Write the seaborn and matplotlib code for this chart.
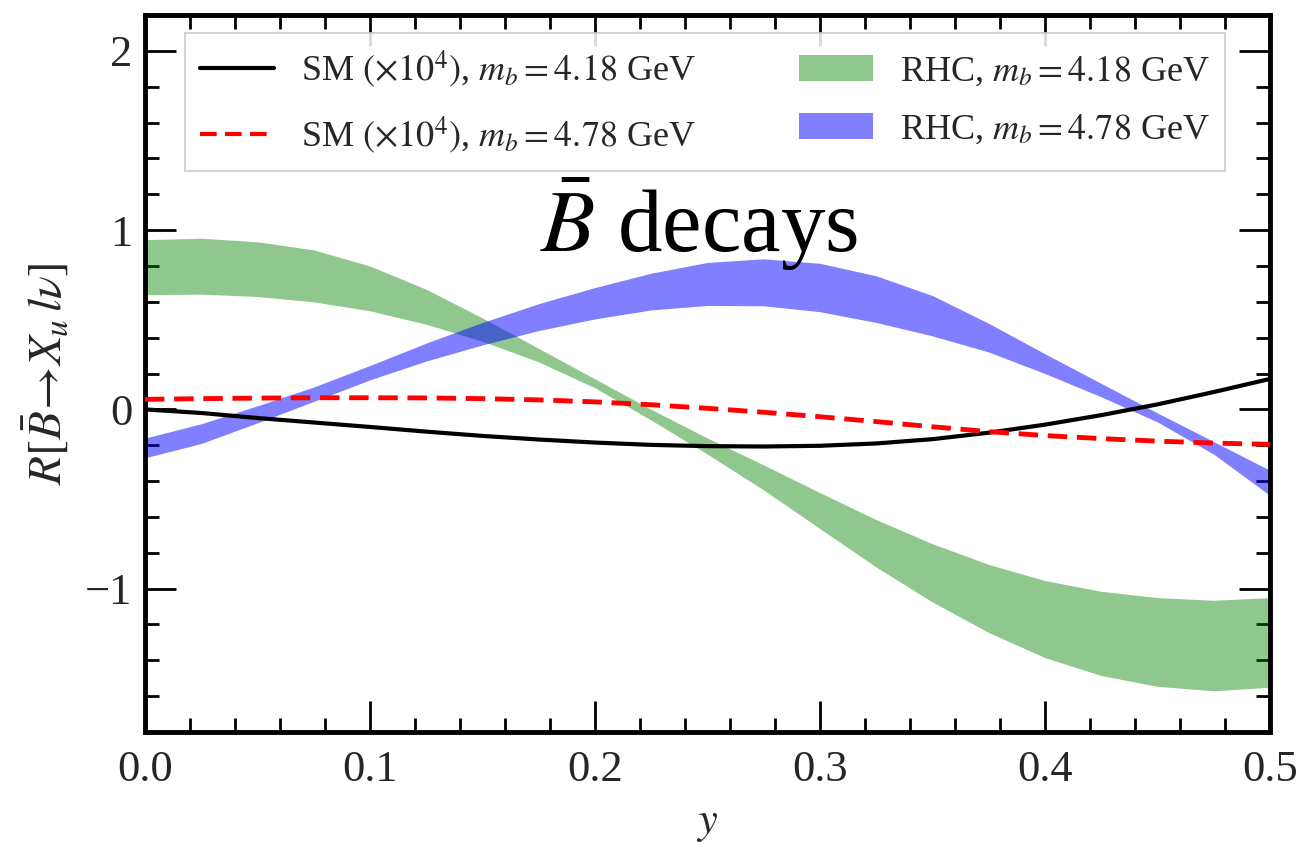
import numpy as np
import pandas as pd
import matplotlib
matplotlib.use("Agg")
import matplotlib.pyplot as plt
import seaborn as sns
from matplotlib.ticker import MultipleLocator
from matplotlib.patches import Patch
from matplotlib.lines import Line2D

# ---------------- data ----------------
y_grid = [0.0, 0.025, 0.05, 0.075, 0.1, 0.125, 0.15, 0.175, 0.2, 0.225, 0.25,
          0.275, 0.3, 0.325, 0.35, 0.375, 0.4, 0.425, 0.45, 0.475, 0.5]

sm_418 = [0.0, -0.02, -0.048, -0.073, -0.098, -0.124, -0.148, -0.168, -0.185, -0.198, -0.205,
          -0.207, -0.203, -0.19, -0.166, -0.13, -0.085, -0.032, 0.028, 0.097, 0.17]

sm_478 = [0.056, 0.06, 0.063, 0.065, 0.065, 0.064, 0.06, 0.053, 0.042, 0.026, 0.006,
          -0.016, -0.041, -0.068, -0.097, -0.124, -0.146, -0.163, -0.177, -0.188, -0.195]

rhc_418_hi = [0.947, 0.955, 0.935, 0.89, 0.80, 0.67, 0.51, 0.34, 0.17, 0.0, -0.16,
              -0.31, -0.465, -0.615, -0.75, -0.865, -0.955, -1.015, -1.05, -1.065, -1.05]
rhc_418_lo = [0.64, 0.643, 0.63, 0.6, 0.55, 0.475, 0.38, 0.265, 0.12, -0.06, -0.25,
              -0.45, -0.665, -0.88, -1.075, -1.245, -1.385, -1.485, -1.545, -1.57, -1.55]

rhc_478_hi = [-0.16, -0.08, 0.02, 0.125, 0.245, 0.37, 0.485, 0.59, 0.68, 0.76, 0.82,
              0.84, 0.815, 0.745, 0.635, 0.48, 0.31, 0.145, -0.02, -0.18, -0.34]
rhc_478_lo = [-0.27, -0.19, -0.075, 0.045, 0.165, 0.27, 0.36, 0.44, 0.505, 0.555, 0.58,
              0.578, 0.545, 0.485, 0.41, 0.32, 0.2, 0.07, -0.07, -0.25, -0.48]

labels = [r"SM $(\times 10^4)$, $m_b = 4.18$ GeV",
          r"SM $(\times 10^4)$, $m_b = 4.78$ GeV",
          r"RHC, $m_b = 4.18$ GeV",
          r"RHC, $m_b = 4.78$ GeV"]

x_ticks = [0.0, 0.1, 0.2, 0.3, 0.4, 0.5]
y_ticks = [-1, 0, 1, 2]

# ---------------- style ----------------
sns.set_theme(style="ticks")
plt.rcParams["font.family"] = ["Liberation Serif", "DejaVu Serif"]
plt.rcParams["mathtext.fontset"] = "stix"
plt.rcParams["axes.unicode_minus"] = True

fig = plt.figure(figsize=(13.05, 8.42), dpi=100)
ax = fig.add_axes([0.1111, 0.1306, 0.8621, 0.8515])

df = pd.DataFrame({"y": y_grid, "sm418": sm_418, "sm478": sm_478})

# bands
ax.fill_between(y_grid, rhc_418_lo, rhc_418_hi, color="#008000", alpha=0.44,
                linewidth=0, zorder=1)
ax.fill_between(y_grid, rhc_478_lo, rhc_478_hi, color="#0000ff", alpha=0.5,
                linewidth=0, zorder=2)

# lines
sns.lineplot(data=df, x="y", y="sm418", ax=ax, color="black", linewidth=3.0,
             zorder=4, legend=False)
sns.lineplot(data=df, x="y", y="sm478", ax=ax, color="#ff0000", linewidth=3.5,
             linestyle=(0, (4, 2)), zorder=4, legend=False)

ax.set_xlim(0, 0.5)
ax.set_ylim(-1.8, 2.2)
ax.set_xticks(x_ticks)
ax.set_xticklabels([f"{v:.1f}" for v in x_ticks])
ax.set_yticks(y_ticks)
ax.set_yticklabels(["\u22121", "0", "1", "2"])
ax.xaxis.set_minor_locator(MultipleLocator(0.02))
ax.yaxis.set_minor_locator(MultipleLocator(0.2))

ax.tick_params(which="both", direction="in", top=True, right=True,
               color="black")
ax.tick_params(which="major", length=22, width=2.0, labelsize=32)
ax.tick_params(which="minor", length=10, width=2.0)
ax.tick_params(axis="x", which="major", pad=13)
ax.tick_params(axis="y", which="major", pad=9)
for s in ax.spines.values():
    s.set_linewidth(3.5)
    s.set_color("black")

ax.set_xlabel(r"$y$", fontsize=32, labelpad=10)
ax.set_ylabel(r"$R[\bar{B}\!\rightarrow\! X_u\, l\nu]$", fontsize=34, labelpad=10)

# annotation
ax.text(0.2462, 0.88, r"$\bar{B}$ decays", fontsize=64, ha="center",
        va="baseline", color="black", zorder=5)

# legend
handles = [
    Line2D([], [], color="black", linewidth=3.0),
    Line2D([], [], color="#ff0000", linewidth=3.0, linestyle=(0, (4, 2))),
    Patch(facecolor="#008000", alpha=0.44, edgecolor="none"),
    Patch(facecolor="#0000ff", alpha=0.5, edgecolor="none"),
]
leg = ax.legend(handles, labels, ncol=2, loc="upper left",
                bbox_to_anchor=(0.0356, 0.975), borderaxespad=0,
                fontsize=26, handlelength=2.05, handleheight=0.7,
                handletextpad=0.75, columnspacing=2.85, labelspacing=0.68,
                borderpad=0.42, frameon=True, fancybox=False,
                edgecolor="#cccccc", framealpha=0.85)
leg.get_frame().set_linewidth(1.5)
leg.set_zorder(6)

fig.savefig("out.png", dpi=100)
